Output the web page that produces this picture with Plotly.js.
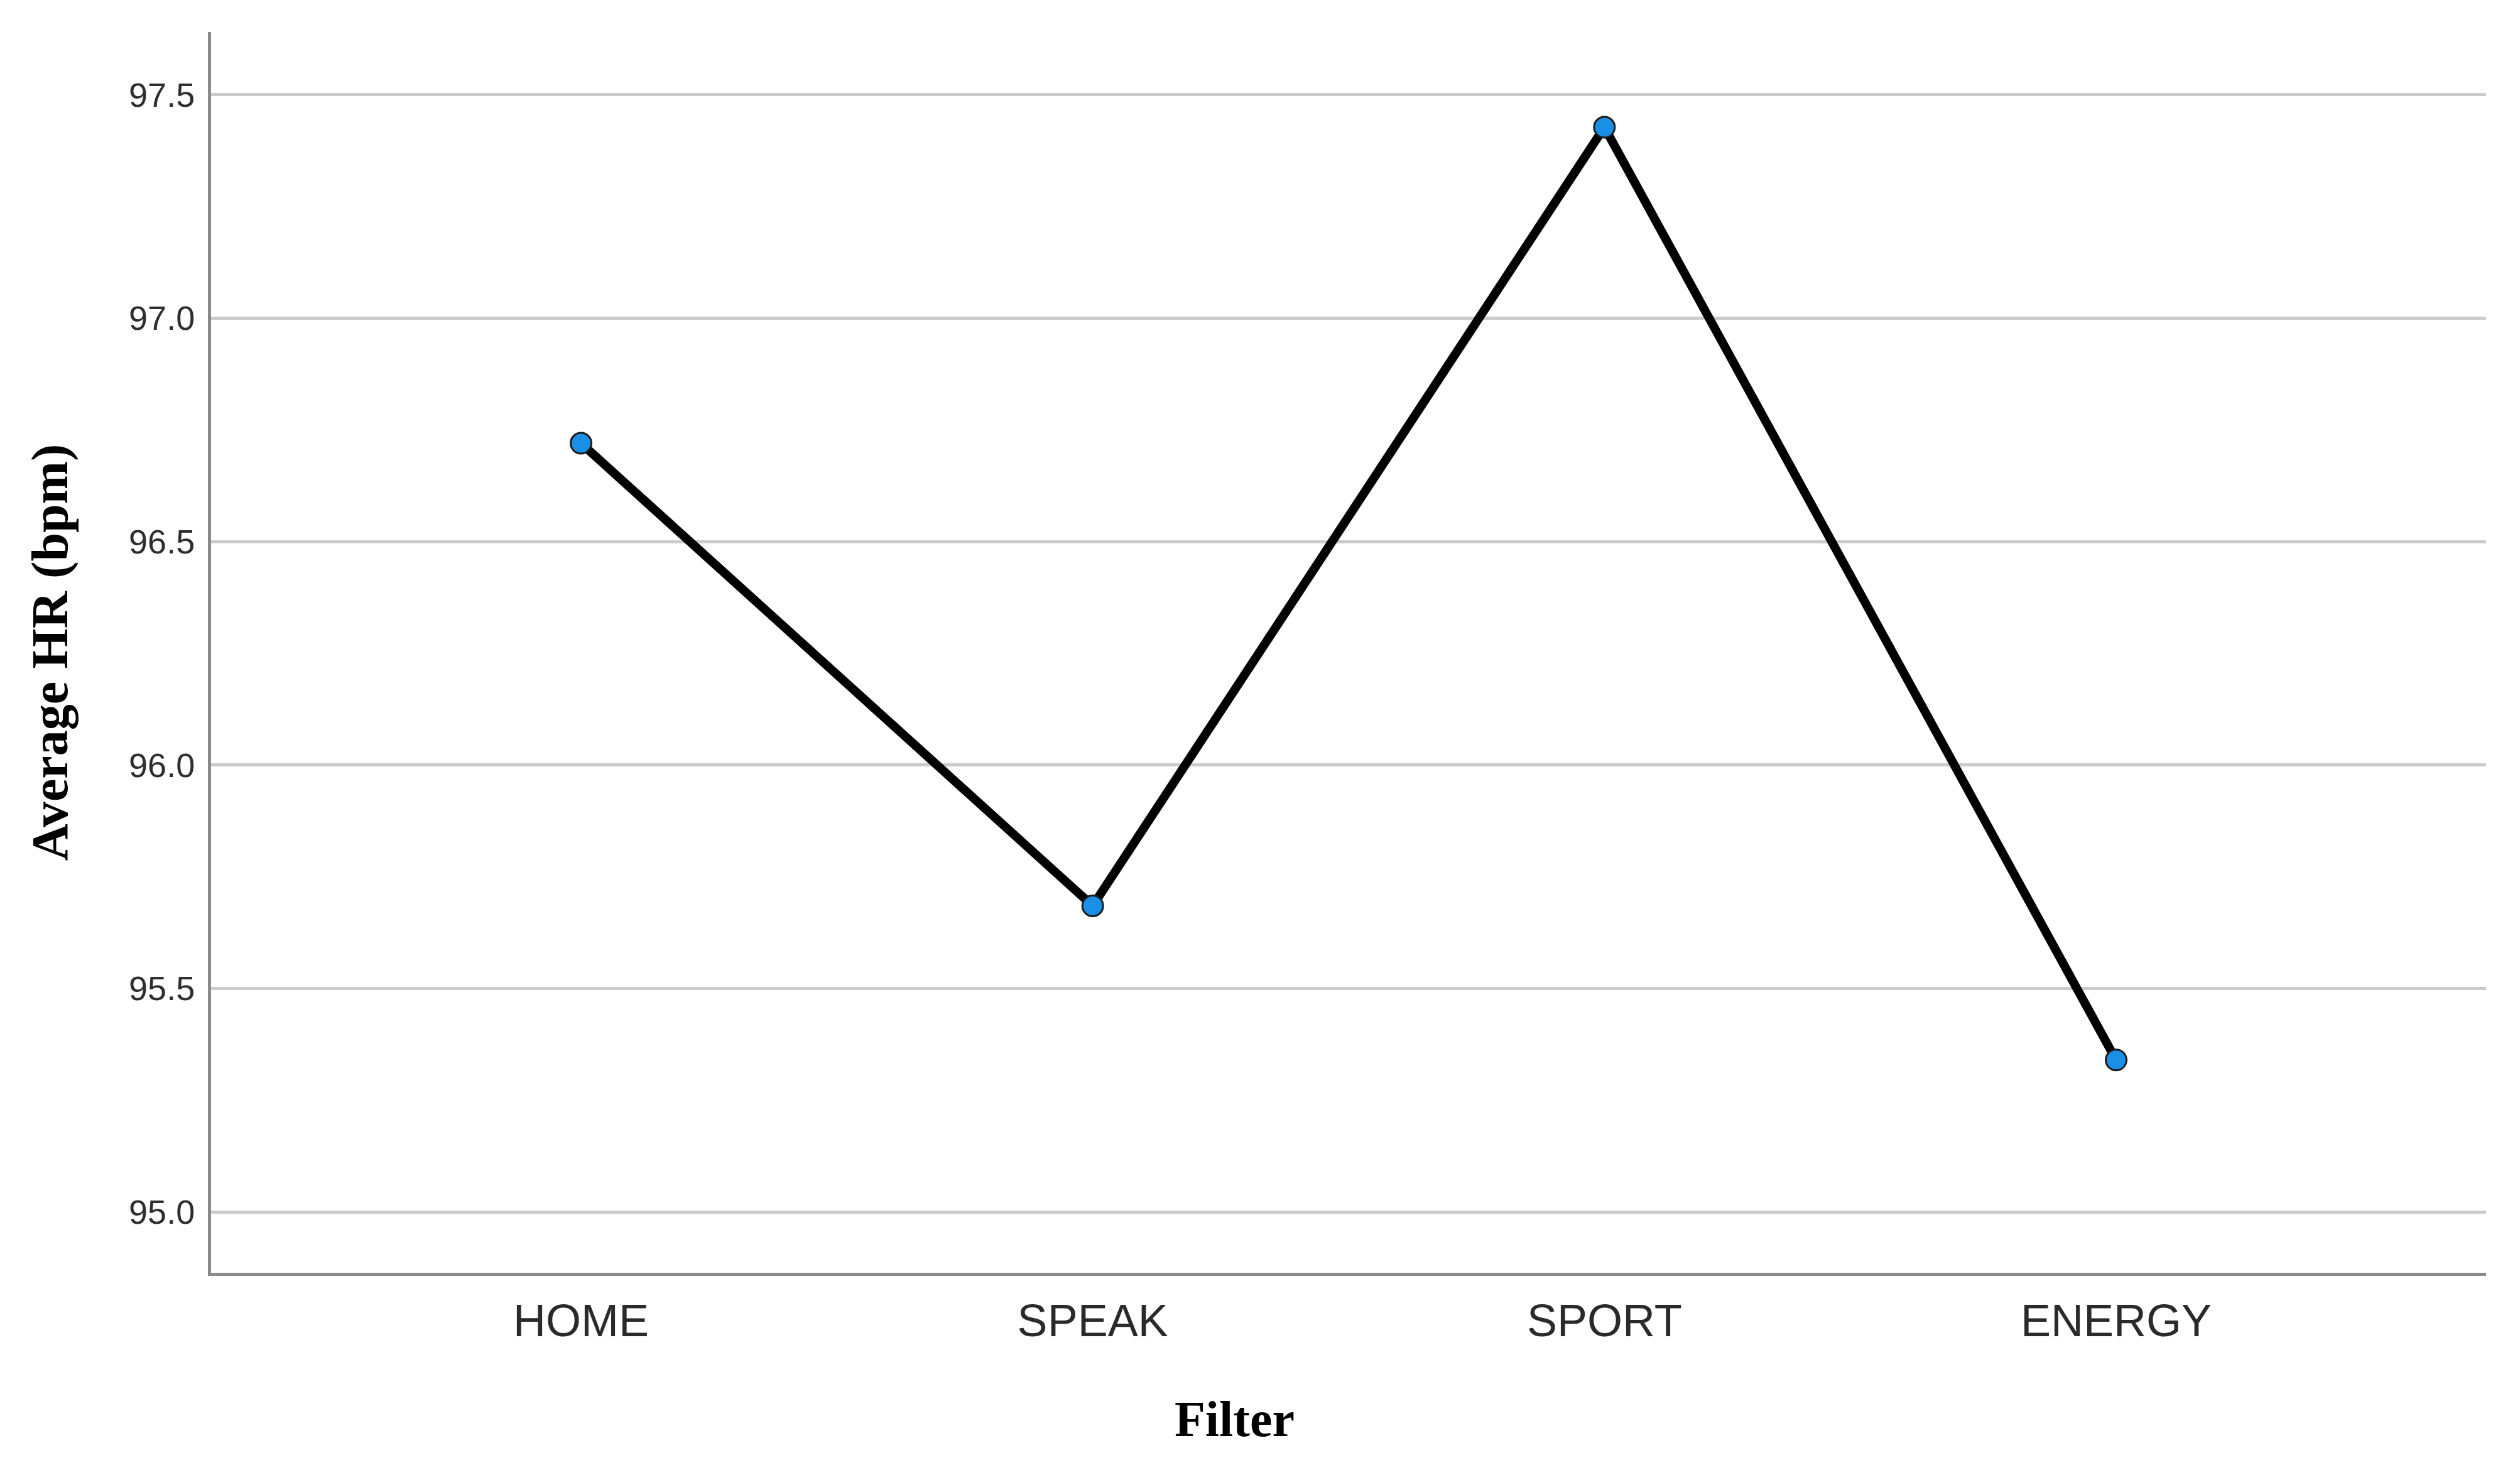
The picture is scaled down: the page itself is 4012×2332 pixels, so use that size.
<!DOCTYPE html>
<html>
<head>
<meta charset="utf-8">
<script src="https://cdn.plot.ly/plotly-3.0.1.min.js"></script>
<style>html,body{margin:0;padding:0;background:#fff;}#chart{width:4012px;height:2332px;}</style>
</head>
<body>
<div id="chart"></div>
<script>
const categories = ["HOME", "SPEAK", "SPORT", "ENERGY"];
const avgHR = [96.72, 95.685, 97.427, 95.34];
const yTickVals = [95.0, 95.5, 96.0, 96.5, 97.0, 97.5];
const yTickText = ["95.0", "95.5", "96.0", "96.5", "97.0", "97.5"];
const xTitle = "Filter";
const yTitle = "Average HR (bpm)";

const trace = {
  type: "scatter",
  mode: "lines+markers",
  x: categories,
  y: avgHR,
  line: {color: "#000000", width: 14},
  marker: {size: 33, color: "#1a8fe6", line: {color: "#1a1a1a", width: 3}},
  showlegend: false,
  hoverinfo: "x+y"
};

const layout = {
  width: 4012,
  height: 2332,
  paper_bgcolor: "#ffffff",
  plot_bgcolor: "#ffffff",
  margin: {l: 336, r: 54, t: 51, b: 306, autoexpand: false},
  showlegend: false,
  xaxis: {
    type: "category",
    categoryorder: "array",
    categoryarray: categories,
    range: [-0.723, 3.723],
    showline: true,
    linecolor: "#8a8a8a",
    linewidth: 5,
    showgrid: false,
    zeroline: false,
    ticks: "",
    ticklabelstandoff: 10,
    tickfont: {family: "Liberation Sans, Arial, sans-serif", size: 72, color: "#2a2a2a"},
    automargin: false,
    fixedrange: true
  },
  yaxis: {
    range: [94.864, 97.64],
    tickvals: yTickVals,
    ticktext: yTickText,
    showline: true,
    linecolor: "#8a8a8a",
    linewidth: 5,
    showgrid: true,
    gridcolor: "#cbcbcb",
    gridwidth: 5,
    zeroline: false,
    ticks: "",
    ticklabelstandoff: 10,
    tickfont: {family: "Liberation Sans, Arial, sans-serif", size: 54, color: "#2e2e2e"},
    title: {
      text: yTitle,
      font: {family: "Liberation Serif, Times New Roman, serif", size: 82, color: "#000000", weight: "bold"},
      standoff: 72
    },
    automargin: false,
    fixedrange: true
  },
  annotations: [{
    text: "<b>" + xTitle + "</b>",
    xref: "paper", yref: "paper",
    x: (1965 - 336) / (4012 - 336 - 54),
    y: -(2259 - 2026) / (2026 - 51),
    xanchor: "center", yanchor: "middle",
    showarrow: false,
    font: {family: "Liberation Serif, Times New Roman, serif", size: 80, color: "#000000"}
  }]
};

Plotly.newPlot("chart", [trace], layout, {displayModeBar: false, staticPlot: true});
</script>
</body>
</html>
